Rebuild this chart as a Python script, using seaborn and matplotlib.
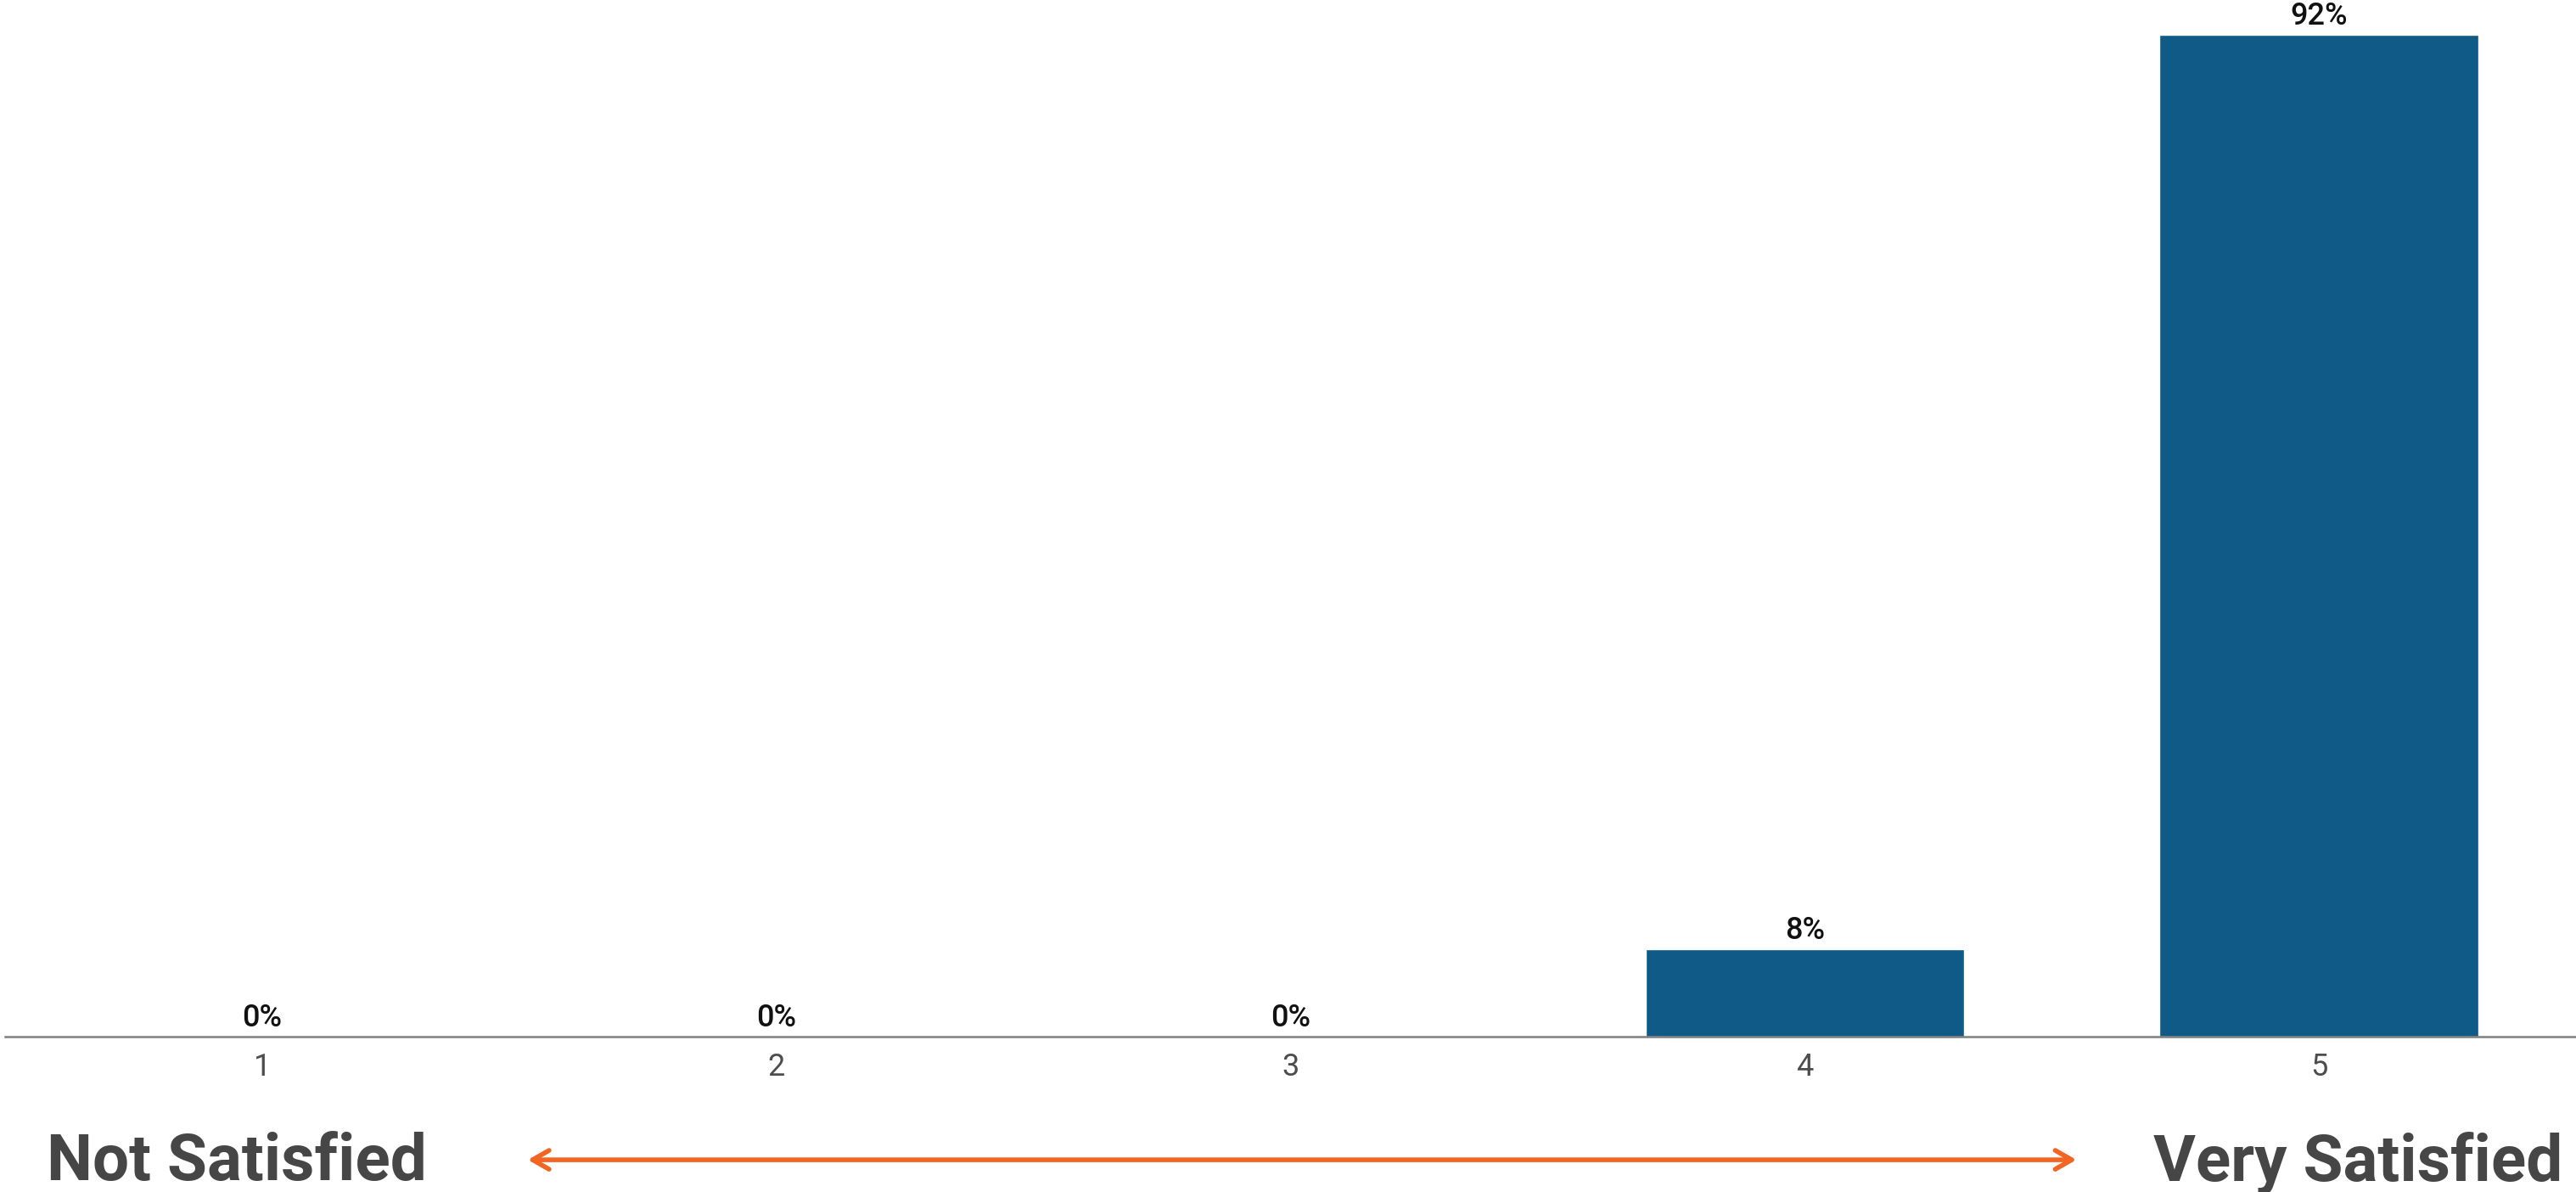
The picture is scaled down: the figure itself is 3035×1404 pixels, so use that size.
import pandas as pd
import matplotlib.pyplot as plt
import seaborn as sns

# survey satisfaction scores
ratings = ['1', '2', '3', '4', '5']
shares = [0, 0, 0, 8, 92]
left_label = 'Not Satisfied'
right_label = 'Very Satisfied'

df = pd.DataFrame({'rating': ratings, 'share': shares})

sns.set_theme(style='white')
plt.rcParams['font.family'] = ['Roboto', 'DejaVu Sans']

fig = plt.figure(figsize=(30.35, 14.04), dpi=100)
ax = fig.add_axes([0.002, 0.1303, 0.998, 0.8697])

sns.barplot(data=df, x='rating', y='share', color='#105A88', saturation=1,
            width=0.62, ax=ax)

for i, v in enumerate(shares):
    ax.annotate(f'{v}%', (i, v), xytext=(0, 3), textcoords='offset points',
                ha='center', va='bottom', fontsize=26, fontweight='medium',
                color='#111111')

ax.set_xlim(-0.5, 4.5)
ax.set_ylim(0, 95.2)
ax.set_xlabel('')
ax.set_ylabel('')
ax.set_yticks([])
ax.tick_params(axis='x', length=0, pad=13, labelsize=26, labelcolor='#4d4d4d')
for side in ['top', 'right', 'left']:
    ax.spines[side].set_visible(False)
ax.spines['bottom'].set_color('#7f7f7f')
ax.spines['bottom'].set_linewidth(1.8)

fig.text(0.018, 0.01, left_label, fontsize=55, fontweight='bold',
         color='#464646', ha='left', va='baseline')
fig.text(0.995, 0.01, right_label, fontsize=55, fontweight='bold',
         color='#464646', ha='right', va='baseline')
fig.patches.append(plt.matplotlib.patches.FancyArrowPatch(
    (0.204, 0.027), (0.807, 0.027), transform=fig.transFigure,
    arrowstyle='<->,head_length=14,head_width=8', color='#F26522',
    linewidth=4, mutation_scale=1))

fig.savefig('out.png', dpi=100, facecolor='white')
